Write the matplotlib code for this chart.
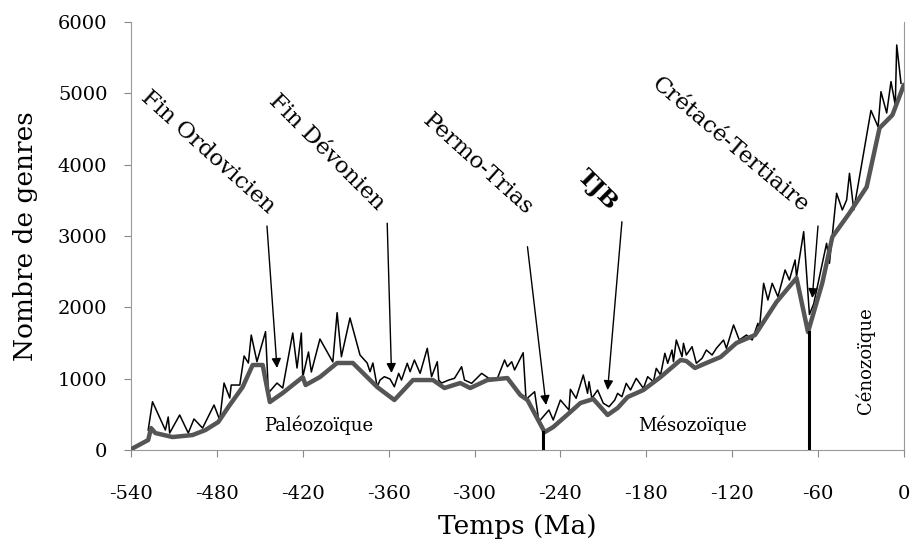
import numpy as np
import matplotlib.pyplot as plt

# raw counts (thin black line)
ma_raw = [-528, -525, -516, -514, -513, -506, -500, -496, -490, -482, -478, -475,
          -471, -470, -464, -461, -458, -456, -452, -446, -444, -438, -434, -427,
          -424, -421, -420, -416, -414, -408, -399, -396, -393, -387, -380, -375,
          -373, -371, -368, -366, -363, -359, -356, -353, -351, -347, -345, -342,
          -338, -333, -330, -326, -325, -323, -318, -314, -309, -307, -302, -295,
          -290, -284, -279, -277, -274, -272, -266, -264, -258, -255, -248, -245,
          -240, -234, -233, -229, -224, -221, -220, -218, -214, -210, -206, -202,
          -200, -197, -194, -191, -187, -182, -179, -175, -173, -170, -167, -165,
          -162, -161, -159, -155, -154, -152, -148, -145, -141, -138, -134, -131,
          -126, -124, -119, -115, -110, -106, -102, -101, -98, -95, -92, -88,
          -83, -80, -76, -75, -70, -66, -63, -59, -54, -52, -47, -43,
          -40, -38, -35, -23, -18, -16, -12, -9, -6, -5, -2]
genres_raw = [280, 677, 280, 463, 238, 491, 238, 435, 308, 631, 421, 939,
              729, 911, 911, 1318, 1220, 1612, 1238, 1659, 799, 939, 869, 1640,
              1150, 1640, 1023, 1374, 1094, 1556, 1234, 1925, 1308, 1851, 1332, 1220,
              1098, 1220, 887, 981, 1028, 995, 887, 1075, 981, 1216, 1098, 1262,
              1075, 1426, 1028, 1238, 981, 939, 981, 1005, 1168, 981, 935, 1075,
              1005, 1005, 1262, 1168, 1238, 1122, 1364, 711, 817, 397, 561, 421,
              701, 561, 851, 725, 1052, 795, 958, 725, 841, 655, 607, 701,
              795, 747, 935, 841, 1005, 865, 1028, 958, 1145, 1052, 1356, 1216,
              1402, 1238, 1542, 1308, 1496, 1332, 1448, 1216, 1286, 1402, 1332, 1426,
              1542, 1426, 1753, 1542, 1612, 1542, 1776, 1682, 2337, 2103, 2337, 2149,
              2524, 2383, 2664, 2430, 3061, 1900, 2050, 2430, 2898, 2618, 3599, 3365,
              3505, 3879, 3365, 4760, 4530, 5023, 4725, 5164, 4837, 5678, 5141]

# smoothed trend (thick grey line)
ma_smooth = [-541, -528, -526, -523, -511, -497, -488, -479, -472, -462, -455, -448,
             -446, -443, -434, -420, -418, -408, -396, -385, -368, -356, -343, -329,
             -321, -310, -303, -291, -277, -268, -263, -251, -245, -233, -226, -217,
             -207, -200, -193, -182, -170, -156, -152, -146, -138, -128, -117, -104,
             -89, -75, -67, -57, -50, -38, -26, -17, -8, 0]
genres_smooth = [0, 140, 308, 238, 182, 210, 280, 393, 603, 883, 1192, 1192,
                 981, 673, 799, 1023, 911, 1023, 1220, 1220, 883, 701, 981, 981,
                 869, 939, 869, 981, 1009, 771, 701, 250, 322, 533, 659, 715,
                 491, 589, 743, 841, 1023, 1262, 1248, 1150, 1220, 1304, 1500, 1612,
                 2075, 2411, 1654, 2341, 2986, 3323, 3687, 4514, 4696, 5120]

# extinction labels: text, x, y, rotation, bold; arrow tail / head
events = ['Fin Ordovicien', 'Fin Dévonien', 'Permo-Trias', 'TJB', 'Crétacé-Tertiaire']
ev_x = [-486, -403, -298, -214, -121]
ev_y = [4180, 4180, 4000, 3650, 4280]
ev_rot = [-42, -45, -42, -45, -40]
ev_bold = [False, False, False, True, False]
arr_from = [(-445, 3140), (-361, 3180), (-263, 2850), (-197, 3200), (-60, 3140)]
arr_to = [(-438, 1150), (-358, 1080), (-250, 630), (-207, 840), (-64, 2130)]

eras = ['Paléozoïque', 'Mésozoïque', 'Cénozoïque']
era_x = [-409, -148, -27]
era_y = [350, 350, 1260]
era_rot = [0, 0, 90]

boundaries = [-252, -66]
boundary_top = [250, 1654]

plt.rcParams['font.family'] = ['DejaVu Serif']
plt.rcParams['axes.unicode_minus'] = False
fig = plt.figure(figsize=(9.13, 5.42), dpi=100)
ax = fig.add_axes([0.1435, 0.1697, 0.8465, 0.7897])

ax.plot(ma_raw, genres_raw, color='black', lw=1.1, zorder=3)
ax.plot(ma_smooth, genres_smooth, color='#555555', lw=3.2, zorder=4,
        solid_joinstyle='round', solid_capstyle='round')

for b, t in zip(boundaries, boundary_top):
    ax.plot([b, b], [0, t], color='black', lw=2.2, zorder=5)

for txt, x, y, r, bd in zip(events, ev_x, ev_y, ev_rot, ev_bold):
    ax.text(x, y, txt, rotation=r, ha='center', va='center', fontsize=16.5,
            fontweight='bold' if bd else 'normal', rotation_mode='anchor')

for (x0, y0), (x1, y1) in zip(arr_from, arr_to):
    ax.annotate('', xy=(x1, y1), xytext=(x0, y0),
                arrowprops=dict(arrowstyle='-|>', color='black', lw=1,
                                mutation_scale=14, shrinkA=0, shrinkB=0))

for txt, x, y, r in zip(eras, era_x, era_y, era_rot):
    ax.text(x, y, txt, rotation=r, ha='center', va='center', fontsize=13)

ax.set_xlim(-540, 0)
ax.set_ylim(0, 6000)
ax.set_xticks(np.arange(-540, 1, 60))
ax.set_yticks(np.arange(0, 6001, 1000))
ax.tick_params(axis='both', colors='#888888', labelcolor='black', labelsize=14,
               length=5, direction='out')
ax.tick_params(axis='x', pad=20)
ax.tick_params(axis='y', pad=12)
for side in ['left', 'bottom', 'right']:
    ax.spines[side].set_color('#999999')
ax.spines['top'].set_visible(False)

ax.set_xlabel('Temps (Ma)', fontsize=19, labelpad=8)
ax.set_ylabel('Nombre de genres', fontsize=19, labelpad=14)

fig.savefig('out.png', dpi=100)
